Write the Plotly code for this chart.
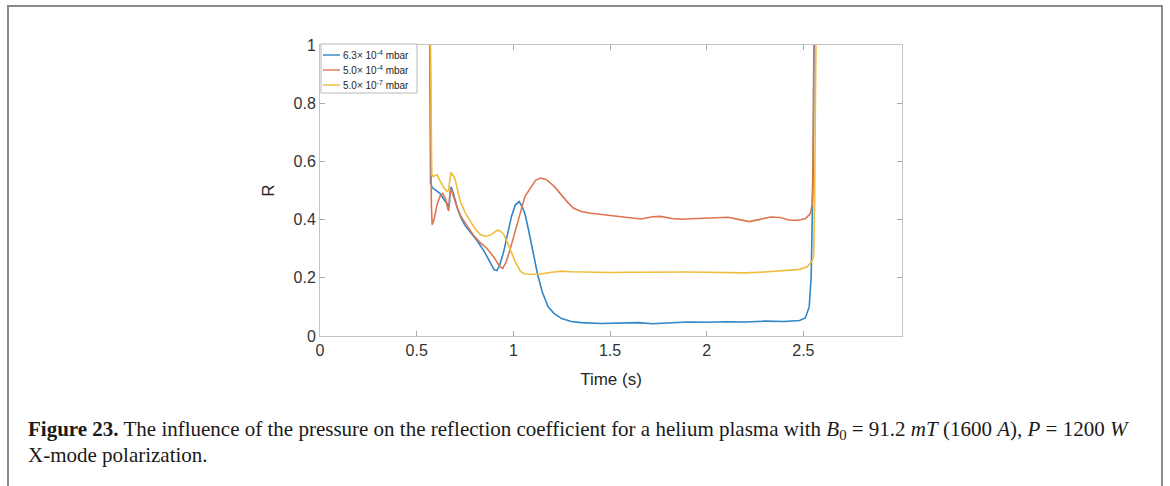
import plotly.graph_objects as go

# Reflection coefficient R vs time for three chamber pressures
t_63e4 = [0.566, 0.570, 0.572, 0.58, 0.60, 0.62, 0.64, 0.66, 0.668, 0.672, 0.678, 0.69, 0.71, 0.73,
          0.75, 0.78, 0.81, 0.85, 0.88, 0.90, 0.915, 0.93, 0.95, 0.97, 0.99, 1.01, 1.03, 1.045,
          1.06, 1.08, 1.10, 1.125, 1.15, 1.18, 1.21, 1.25, 1.30, 1.35, 1.45, 1.55, 1.65, 1.72,
          1.80, 1.90, 2.00, 2.10, 2.20, 2.30, 2.40, 2.48, 2.51, 2.53, 2.54, 2.545, 2.55, 2.553, 2.556]
r_63e4 = [1.2, 0.60, 0.525, 0.51, 0.50, 0.49, 0.47, 0.45, 0.445, 0.49, 0.512, 0.49, 0.44, 0.405,
          0.38, 0.355, 0.33, 0.29, 0.25, 0.228, 0.225, 0.245, 0.29, 0.35, 0.41, 0.45, 0.462, 0.445,
          0.42, 0.36, 0.29, 0.213, 0.15, 0.10, 0.078, 0.06, 0.05, 0.046, 0.043, 0.045, 0.046, 0.042,
          0.045, 0.048, 0.047, 0.049, 0.048, 0.051, 0.050, 0.053, 0.062, 0.10, 0.20, 0.33, 0.55, 0.8, 1.2]

t_50e4 = [0.568, 0.572, 0.576, 0.58, 0.59, 0.605, 0.62, 0.635, 0.65, 0.662, 0.666, 0.672, 0.678,
          0.69, 0.71, 0.73, 0.76, 0.795, 0.83, 0.865, 0.90, 0.93, 0.945, 0.96, 0.98, 1.00, 1.02,
          1.04, 1.06, 1.09, 1.115, 1.14, 1.17, 1.21, 1.24, 1.28, 1.31, 1.35, 1.40, 1.48, 1.55,
          1.62, 1.66, 1.72, 1.76, 1.82, 1.87, 1.95, 2.05, 2.11, 2.17, 2.22, 2.27, 2.33, 2.38,
          2.43, 2.47, 2.51, 2.535, 2.545, 2.55, 2.553, 2.556]
r_50e4 = [1.2, 0.7, 0.45, 0.382, 0.40, 0.45, 0.48, 0.49, 0.47, 0.435, 0.43, 0.49, 0.505,
          0.48, 0.44, 0.41, 0.38, 0.345, 0.32, 0.30, 0.27, 0.238, 0.232, 0.25, 0.29, 0.34, 0.39,
          0.44, 0.48, 0.51, 0.535, 0.543, 0.538, 0.515, 0.49, 0.46, 0.44, 0.428, 0.422, 0.416, 0.412,
          0.406, 0.402, 0.41, 0.411, 0.404, 0.401, 0.404, 0.407, 0.408, 0.40, 0.393, 0.40, 0.409, 0.407,
          0.398, 0.398, 0.403, 0.42, 0.45, 0.60, 0.85, 1.2]

t_50e7 = [0.568, 0.574, 0.578, 0.585, 0.595, 0.606, 0.62, 0.64, 0.655, 0.665, 0.672, 0.678, 0.69,
          0.70, 0.715, 0.726, 0.75, 0.778, 0.80, 0.83, 0.86, 0.89, 0.915, 0.93, 0.95, 0.97, 0.985,
          1.01, 1.037, 1.06, 1.10, 1.14, 1.20, 1.25, 1.30, 1.40, 1.50, 1.60, 1.70, 1.80, 1.90,
          2.00, 2.10, 2.20, 2.30, 2.40, 2.48, 2.52, 2.545, 2.553, 2.558, 2.562, 2.568]
r_50e7 = [1.2, 0.7, 0.555, 0.548, 0.55, 0.554, 0.535, 0.51, 0.498, 0.50, 0.54, 0.562, 0.55,
          0.535, 0.49, 0.462, 0.425, 0.394, 0.37, 0.348, 0.342, 0.35, 0.363, 0.362, 0.35, 0.32, 0.297,
          0.255, 0.222, 0.213, 0.212, 0.213, 0.219, 0.223, 0.221, 0.219, 0.218, 0.219, 0.220, 0.221, 0.220,
          0.219, 0.217, 0.217, 0.220, 0.226, 0.229, 0.238, 0.258, 0.275, 0.45, 0.80, 1.2]

series_names = ["6.3× 10<sup>-4</sup> mbar", "5.0× 10<sup>-4</sup> mbar", "5.0× 10<sup>-7</sup> mbar"]
x_ticks = [0, 0.5, 1, 1.5, 2, 2.5]
x_tick_text = ["0", "0.5", "1", "1.5", "2", "2.5"]
y_ticks = [0, 0.2, 0.4, 0.6, 0.8, 1]
y_tick_text = ["0", "0.2", "0.4", "0.6", "0.8", "1"]

colors = ["#2f86c8", "#dd7650", "#efbd3c"]

W, H = 1170, 486
ML, MR, MT, MB = 320, 268, 45, 150
PW, PH = W - ML - MR, H - MT - MB


def px(x):
    return (x - ML) / PW


def py(y):
    return (H - MB - y) / PH


fig = go.Figure()
for tt, rr, name, c in zip([t_63e4, t_50e4, t_50e7], [r_63e4, r_50e4, r_50e7], series_names, colors):
    fig.add_trace(go.Scatter(x=tt, y=rr, mode="lines", name=name, showlegend=False,
                             line=dict(color=c, width=1.6)))

axis_common = dict(
    showline=True, linecolor="#c4c4c4", linewidth=1, mirror="ticks",
    ticks="inside", ticklen=5, tickcolor="#a8a8a8", tickwidth=1,
    showgrid=False, zeroline=False,
    tickfont=dict(family="Liberation Sans, Arial, sans-serif", size=16, color="#333333"),
)

fig.update_xaxes(range=[0, 3.01], tickvals=x_ticks, ticktext=x_tick_text,
                 title=dict(text="Time (s)", standoff=14,
                            font=dict(family="Liberation Sans, Arial, sans-serif", size=17, color="#262626")),
                 **axis_common)
fig.update_yaxes(range=[0, 1], tickvals=y_ticks, ticktext=y_tick_text,
                 title=dict(text="R", standoff=14,
                            font=dict(family="Liberation Sans, Arial, sans-serif", size=17, color="#262626")),
                 **axis_common)

# compact legend box in the upper-left corner of the axes
leg_font = dict(family="Liberation Sans, Arial, sans-serif", size=10, color="#262626")
fig.add_shape(type="rect", xref="paper", yref="paper",
              x0=px(321), x1=px(417), y0=py(93), y1=py(44),
              line=dict(color="#b8b8b8", width=1), fillcolor="white", layer="above")
for i, (name, c) in enumerate(zip(series_names, colors)):
    yrow = 55 + 15 * i
    fig.add_shape(type="line", xref="paper", yref="paper",
                  x0=px(323), x1=px(340), y0=py(yrow), y1=py(yrow),
                  line=dict(color=c, width=1.4), layer="above")
    fig.add_annotation(xref="paper", yref="paper", x=px(341), y=py(yrow),
                       xanchor="left", yanchor="middle", showarrow=False,
                       font=leg_font, text=name)

caption_font = dict(family="Liberation Serif, Times New Roman, serif", size=21, color="#1a1a1a")
fig.add_annotation(xref="paper", yref="paper", x=px(26), y=py(430), xanchor="left", yanchor="middle",
                   showarrow=False, font=caption_font, align="left",
                   text="<b>Figure 23.</b> The influence of the pressure on the reflection coefficient for a helium plasma with "
                        "<i>B</i><sub>0</sub> = 91.2 <i>mT</i> (1600 <i>A</i>), <i>P</i> = 1200 <i>W</i>")
fig.add_annotation(xref="paper", yref="paper", x=px(26), y=py(455), xanchor="left", yanchor="middle",
                   showarrow=False, font=caption_font, align="left",
                   text="X-mode polarization.")

# outer page frame
fig.add_shape(type="rect", xref="paper", yref="paper",
              x0=px(8), x1=px(1162), y0=py(520), y1=py(6),
              line=dict(color="#8a8a8a", width=2), fillcolor="rgba(0,0,0,0)", layer="below")

fig.update_layout(
    width=W, height=H,
    margin=dict(l=ML, r=MR, t=MT, b=MB, pad=0),
    paper_bgcolor="white", plot_bgcolor="white",
    showlegend=False,
)

fig.write_html("out.html")
